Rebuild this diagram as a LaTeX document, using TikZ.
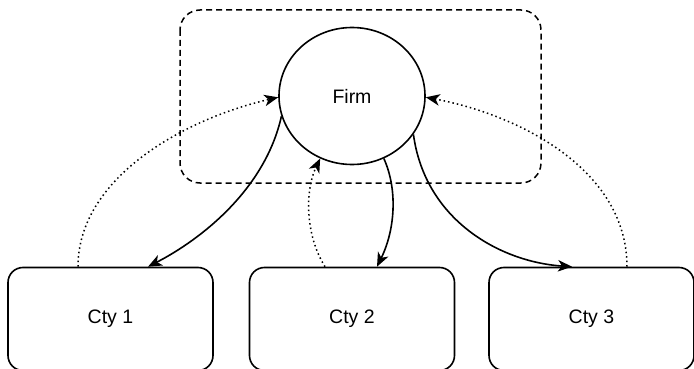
\documentclass[tikz,border=0pt]{standalone}
\usepackage{fontspec}
\setmainfont{Liberation Sans}
\usetikzlibrary{arrows.meta,shapes.geometric}
\begin{document}
\begin{tikzpicture}[x=1pt,y=-1pt,
  every node/.style={font=\fontsize{19.5}{23}\selectfont},
  ctybox/.style={draw,line width=1.6pt,rounded corners=15pt,minimum width=205pt,minimum height=103pt,inner sep=0pt},
  firmshape/.style={draw,ellipse,line width=1.6pt,minimum width=146pt,minimum height=137pt,inner sep=0pt},
  tip/.style={-{Stealth[length=14pt,width=11.5pt,inset=4pt]}},
  flow/.style={tip,line width=1.6pt},
  feedback/.style={tip,line width=1.5pt,dash pattern=on 1.5pt off 3pt},
  group/.style={draw,line width=1.5pt,dash pattern=on 6pt off 4pt,rounded corners=20pt}]
  \useasboundingbox (0,0) rectangle (694,369);

  % grouping frame around the firm
  \draw[group] (180,10) rectangle (541,183);

  \node[firmshape] (firm) at (352,96) {Firm};
  \node[ctybox] (c1) at (110.5,319) {Cty 1};
  \node[ctybox] (c2) at (352,319) {Cty 2};
  \node[ctybox] (c3) at (591.5,319) {Cty 3};

  % firm -> countries
  \draw[flow] (firm.196) .. controls (265,190) and (200,240) .. ([xshift=37.5pt]c1.north);
  \draw[flow] (firm.297) .. controls (398,190) and (395,230) .. ([xshift=25pt]c2.north);
  \draw[flow] (firm.328) .. controls (425,220) and (500,262) .. ([xshift=-19.5pt]c3.north);

  % countries -> firm
  \draw[feedback] ([xshift=-32.5pt]c1.north) .. controls (78,180) and (180,120) .. (firm.181);
  \draw[feedback] ([xshift=-27pt]c2.north) .. controls (305,235) and (305,190) .. (firm.243);
  \draw[feedback] ([xshift=35.5pt]c3.north) .. controls (627,170) and (520,115) .. (firm.359);
\end{tikzpicture}
\end{document}
